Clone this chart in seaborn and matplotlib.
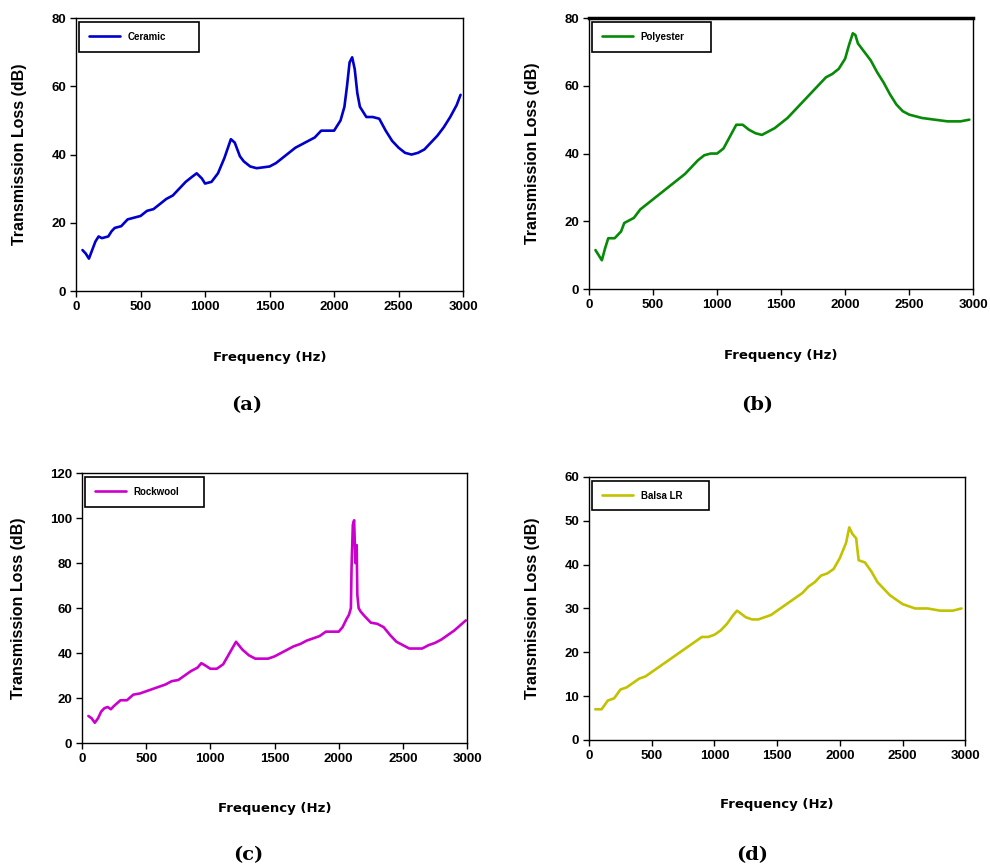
import matplotlib
matplotlib.use("Agg")
import matplotlib.pyplot as plt
import seaborn as sns
import pandas as pd

# ---- data ----
freq_ceramic = [50, 75, 100, 125, 150, 175, 200, 250, 275, 300, 350, 400, 450, 500, 550,
                600, 650, 700, 750, 800, 850, 900, 935, 975, 1000, 1050, 1100, 1150, 1200,
                1230, 1270, 1300, 1350, 1400, 1500, 1550, 1600, 1650, 1700, 1750, 1800,
                1850, 1900, 1950, 2000, 2050, 2080, 2100, 2120, 2140, 2160, 2180, 2200,
                2250, 2300, 2350, 2400, 2450, 2500, 2550, 2600, 2650, 2700, 2750, 2800,
                2850, 2900, 2950, 2980]
tl_ceramic = [12, 11, 9.5, 12, 14.5, 16, 15.5, 16, 17.5, 18.5, 19, 21, 21.5, 22, 23.5,
              24, 25.5, 27, 28, 30, 32, 33.5, 34.5, 33, 31.5, 32, 34.5, 39, 44.5,
              43.5, 39.5, 38, 36.5, 36, 36.5, 37.5, 39, 40.5, 42, 43, 44,
              45, 47, 47, 47, 50, 54, 60, 67, 68.5, 65, 58, 54,
              51, 51, 50.5, 47, 44, 42, 40.5, 40, 40.5, 41.5, 43.5, 45.5,
              48, 51, 54.5, 57.5]

freq_polyester = [50, 75, 100, 125, 150, 200, 250, 275, 300, 350, 400, 450, 500, 550, 600,
                  650, 700, 750, 800, 850, 900, 950, 1000, 1050, 1100, 1150, 1200, 1250,
                  1300, 1350, 1400, 1450, 1500, 1550, 1600, 1650, 1700, 1750, 1800, 1850,
                  1900, 1950, 2000, 2030, 2060, 2080, 2100, 2150, 2200, 2250, 2300, 2350,
                  2400, 2450, 2500, 2550, 2600, 2700, 2800, 2900, 2970]
tl_polyester = [11.5, 10, 8.5, 12, 15, 15, 17, 19.5, 20, 21, 23.5, 25, 26.5, 28, 29.5,
                31, 32.5, 34, 36, 38, 39.5, 40, 40, 41.5, 45, 48.5, 48.5, 47,
                46, 45.5, 46.5, 47.5, 49, 50.5, 52.5, 54.5, 56.5, 58.5, 60.5, 62.5,
                63.5, 65, 68, 72, 75.5, 75, 72.5, 70, 67.5, 64, 61, 57.5,
                54.5, 52.5, 51.5, 51, 50.5, 50, 49.5, 49.5, 50]

freq_rockwool = [50, 75, 100, 125, 150, 175, 200, 225, 250, 300, 350, 400, 450, 500, 550,
                 600, 650, 700, 750, 800, 850, 900, 930, 960, 1000, 1050, 1100, 1150, 1200,
                 1250, 1300, 1350, 1400, 1450, 1500, 1550, 1600, 1650, 1700, 1750, 1800,
                 1850, 1900, 1950, 2000, 2030, 2060, 2080, 2095, 2100, 2110, 2120, 2130,
                 2140, 2145, 2155, 2170, 2200, 2250, 2300, 2350, 2400, 2450, 2500, 2550,
                 2600, 2650, 2700, 2750, 2800, 2850, 2900, 2950, 2990]
tl_rockwool = [12, 11, 9, 11, 14, 15.5, 16, 15, 16.5, 19, 19, 21.5, 22, 23, 24,
               25, 26, 27.5, 28, 30, 32, 33.5, 35.5, 34.5, 33, 33, 35, 40, 45,
               41.5, 39, 37.5, 37.5, 37.5, 38.5, 40, 41.5, 43, 44, 45.5, 46.5,
               47.5, 49.5, 49.5, 49.5, 51.5, 55, 57, 60, 78, 97, 99, 80,
               88, 66, 60, 58.5, 56.5, 53.5, 53, 51.5, 48, 45, 43.5, 42,
               42, 42, 43.5, 44.5, 46, 48, 50, 52.5, 54.5]

freq_balsa = [50, 100, 125, 150, 200, 225, 250, 300, 350, 400, 450, 500, 550, 600, 650,
              700, 750, 800, 850, 900, 950, 1000, 1050, 1100, 1150, 1180, 1250, 1300,
              1350, 1400, 1450, 1500, 1550, 1600, 1650, 1700, 1750, 1800, 1850, 1900,
              1950, 2000, 2050, 2075, 2100, 2130, 2150, 2200, 2250, 2300, 2350, 2400,
              2450, 2500, 2550, 2600, 2700, 2800, 2900, 2970]
tl_balsa = [7, 7, 8, 9, 9.5, 10.5, 11.5, 12, 13, 14, 14.5, 15.5, 16.5, 17.5, 18.5,
            19.5, 20.5, 21.5, 22.5, 23.5, 23.5, 24, 25, 26.5, 28.5, 29.5, 28, 27.5,
            27.5, 28, 28.5, 29.5, 30.5, 31.5, 32.5, 33.5, 35, 36, 37.5, 38,
            39, 41.5, 45, 48.5, 47, 46, 41, 40.5, 38.5, 36, 34.5, 33,
            32, 31, 30.5, 30, 30, 29.5, 29.5, 30]

sns.set_style("ticks")
plt.rcParams['font.family'] = ['Liberation Sans', 'DejaVu Sans']
plt.rcParams['text.color'] = 'black'
plt.rcParams['axes.labelcolor'] = 'black'
plt.rcParams['xtick.color'] = 'black'
plt.rcParams['ytick.color'] = 'black'

fig = plt.figure(figsize=(9.9, 8.68), dpi=100)


def draw_panel(rect, freq, tl, name, color, ymax, ystep, ylab_x, tag, tag_xy):
    ax = fig.add_axes(rect)
    df = pd.DataFrame({'Frequency (Hz)': freq, 'TL': tl})
    sns.lineplot(data=df, x='Frequency (Hz)', y='TL', ax=ax, color=color,
                 linewidth=1.9, label=name)
    ax.set_xlim(0, 3000)
    ax.set_ylim(0, ymax)
    ax.set_xticks(range(0, 3001, 500))
    ax.set_yticks(range(0, ymax + 1, ystep))
    for s in ax.spines.values():
        s.set_visible(True)
        s.set_color('black')
        s.set_linewidth(1.0)
    ax.tick_params(direction='out', length=4, width=1, labelsize=9.5, pad=3)
    for lbl in ax.get_xticklabels() + ax.get_yticklabels():
        lbl.set_fontweight('bold')
    ax.set_xlabel('Frequency (Hz)', fontsize=9.5, fontweight='bold',
                  family='DejaVu Sans')
    ax.xaxis.set_label_coords(0.5, -0.22)
    ax.set_ylabel('Transmission Loss (dB)', fontsize=11.5, fontweight='bold')
    ax.yaxis.set_label_coords(ylab_x, 0.5)
    leg = ax.legend(loc='upper left', bbox_to_anchor=(0.008, 0.985, 0.31, 0.0),
                    mode='expand', fancybox=False, framealpha=1, handlelength=3.2,
                    handletextpad=0.8, borderpad=1.0, borderaxespad=0,
                    prop={'size': 7, 'weight': 'bold'})
    leg.get_frame().set_edgecolor('black')
    leg.get_frame().set_linewidth(1.2)
    fig.text(tag_xy[0], tag_xy[1], tag, ha='center', va='center', fontsize=14,
             fontweight='bold', family='DejaVu Serif')
    return ax


draw_panel([0.0768, 0.6647, 0.391, 0.3145], freq_ceramic, tl_ceramic, 'Ceramic',
           '#0000cc', 80, 20, -0.127, '(a)', (247 / 990, 1 - 405 / 868))
axb = draw_panel([0.595, 0.667, 0.388, 0.3122], freq_polyester, tl_polyester, 'Polyester',
                 '#078a07', 80, 20, -0.128, '(b)', (757 / 990, 1 - 405 / 868))
axb.spines['top'].set_linewidth(2.5)
draw_panel([0.0828, 0.144, 0.389, 0.311], freq_rockwool, tl_rockwool, 'Rockwool',
           '#cc00cc', 120, 20, -0.145, '(c)', (248 / 990, 1 - 855 / 868))
draw_panel([0.595, 0.1475, 0.380, 0.303], freq_balsa, tl_balsa, 'Balsa LR',
           '#c2c200', 60, 10, -0.13, '(d)', (752 / 990, 1 - 855 / 868))

plt.savefig('out.png', dpi=100)
